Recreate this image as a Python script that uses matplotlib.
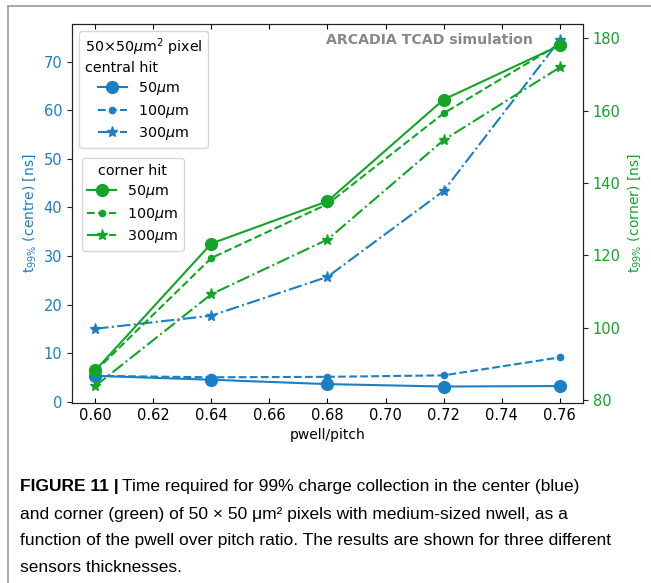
import matplotlib
matplotlib.use("Agg")
import matplotlib.pyplot as plt
from matplotlib.lines import Line2D

# data
ratio = [0.60, 0.64, 0.68, 0.72, 0.76]

# centre hit (left axis, ns)
centre_50 = [5.3, 4.5, 3.6, 3.1, 3.2]
centre_100 = [5.3, 5.0, 5.1, 5.4, 9.1]
centre_300 = [15.0, 17.7, 25.7, 43.4, 74.5]

# corner hit (right axis, ns)
corner_50 = [88.2, 123.3, 135.0, 163.1, 178.1]
corner_100 = [88.0, 119.3, 134.2, 159.3, 178.5]
corner_300 = [83.9, 109.3, 124.4, 151.9, 172.0]

thick_labels = [r"50$\mu$m", r"100$\mu$m", r"300$\mu$m"]

blue = "#1a7fc4"
green = "#12a527"

styles = [("-", "o", 8.5), ("--", "o", 4.5), ("-.", "*", 8)]

fig = plt.figure(figsize=(6.51, 5.83), dpi=100)
ax = fig.add_axes([0.1106, 0.3087, 0.7849, 0.6501])
ax2 = ax.twinx()

for vals, (ls, mk, ms) in zip([centre_50, centre_100, centre_300], styles):
    ax.plot(ratio, vals, color=blue, ls=ls, marker=mk, ms=ms, lw=1.5)
for vals, (ls, mk, ms) in zip([corner_50, corner_100, corner_300], styles):
    ax2.plot(ratio, vals, color=green, ls=ls, marker=mk, ms=ms, lw=1.5)

ax.set_xlim(0.592, 0.768)
ax.set_ylim(-0.3, 77.8)
ax2.set_ylim(79.2, 184)
ax.set_xticks([0.60, 0.62, 0.64, 0.66, 0.68, 0.70, 0.72, 0.74, 0.76])
ax.set_xticklabels(["%.2f" % t for t in ax.get_xticks()])
ax.tick_params(axis="x", direction="in", top=True, labelsize=10.5)
ax.tick_params(axis="y", colors=blue, labelsize=10.5)
ax2.tick_params(axis="y", colors=green, labelsize=10.5)
for a in (ax, ax2):
    for s in a.spines.values():
        s.set_color("#222222")
ax.tick_params(axis="y", color="#222222")
ax2.tick_params(axis="y", color="#222222")

ax.set_xlabel("pwell/pitch", fontsize=10)
ax.set_ylabel(r"t$_{99\%}$ (centre) [ns]", color=blue, fontsize=10)
ax2.set_ylabel(r"t$_{99\%}$ (corner) [ns]", color=green, fontsize=10)

ax.text(0.902, 0.977, "ARCADIA TCAD simulation", transform=ax.transAxes,
        ha="right", va="top", fontsize=10.2, fontweight="bold", color="#888888")

# legends
h1 = [Line2D([], [], color=blue, ls=ls, marker=mk, ms=ms, lw=1.5) for ls, mk, ms in styles]
h2 = [Line2D([], [], color=green, ls=ls, marker=mk, ms=ms, lw=1.5) for ls, mk, ms in styles]
leg1 = ax2.legend(h1, thick_labels, title="50×50$\\mu$m$^2$ pixel\ncentral hit",
                  loc="upper left", bbox_to_anchor=(0.0, 1.0), fontsize=10.3,
                  title_fontsize=10.3, handlelength=2.0, labelspacing=0.38)
leg1.get_title().set_multialignment("left")
ax2.add_artist(leg1)
leg2 = ax2.legend(h2, thick_labels, title="corner hit", loc="upper left",
                  bbox_to_anchor=(0.005, 0.665), fontsize=10.3, title_fontsize=10.3,
                  handlelength=2.0, labelspacing=0.38)

# open frame around the figure panel
fig.add_artist(Line2D([8 / 651, 1.0], [1 - 6 / 583, 1 - 6 / 583], color="#999999", lw=1.2))
fig.add_artist(Line2D([8 / 651, 8 / 651], [0, 1 - 6 / 583], color="#999999", lw=1.2))

# caption
cap_font = ["Liberation Sans Narrow", "Liberation Sans", "DejaVu Sans"]
cap_size = 12.5
x0 = 20 / 651
line_y = [487, 514, 541, 568]
caption = [
    "Time required for 99% charge collection in the center (blue)",
    "and corner (green) of 50 × 50 μm² pixels with medium-sized nwell, as a",
    "function of the pwell over pitch ratio. The results are shown for three different",
    "sensors thicknesses.",
]
r = fig.canvas.get_renderer()
bold = fig.text(x0, 1 - line_y[0] / 583, "FIGURE 11 |", family=cap_font,
                fontsize=cap_size, fontweight="bold", va="center")
bb = bold.get_window_extent(r)
fig.text(bb.x1 / fig.bbox.width + 3 / 651, 1 - line_y[0] / 583, caption[0],
         family=cap_font, fontsize=cap_size, va="center")
for y, line in zip(line_y[1:], caption[1:]):
    fig.text(x0, 1 - y / 583, line, family=cap_font, fontsize=cap_size, va="center")

fig.savefig("out.png", dpi=100)
